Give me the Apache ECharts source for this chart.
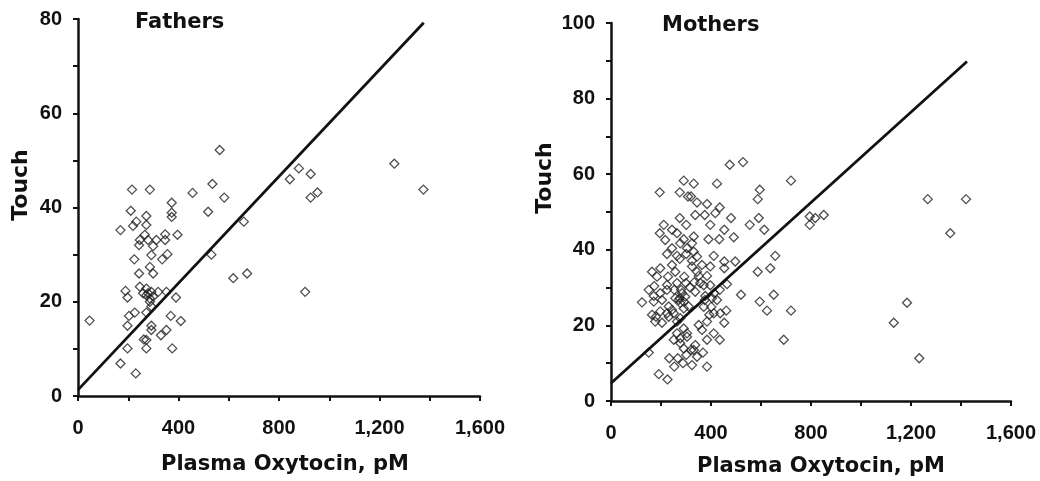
<!DOCTYPE html>
<html>
<head>
<meta charset="utf-8">
<script src="https://cdn.jsdelivr.net/npm/echarts/dist/echarts.min.js"></script>
<style>
  html, body { margin: 0; padding: 0; background: #fff; }
  #chart { width: 1040px; height: 481px; }
</style>
</head>
<body>
<div id="chart"></div>
<script>
// Fathers: [plasma oxytocin pM, touch]
const fathersPoints = [
  [46,16],[169,35.2],[215,43.8],[286,43.8],[210,39.3],[219,36.1],[232,37],[272,38.2],[272,36.3],
  [246,33.1],[266,34.2],[243,32],[279,33.1],[299,31.8],[312,33.1],[347,34.3],[347,33.1],[356,30.1],
  [335,29],[292,29.9],[224,29],[286,27.4],[299,26],[243,26],[373,41],[373,38.9],[373,38],[396,34.2],
  [456,43.1],[518,39.1],[535,45],[582,42.1],[564,52.2],[531,30],[618,25],[673,26],[660,37],[843,46],
  [879,48.3],[926,47.1],[926,42.1],[953,43.2],[904,22.1],[1259,49.3],[1375,43.8],
  [189,22.3],[197,20.9],[246,23.2],[259,21.8],[272,22.8],[279,21.8],[292,22.1],[299,21.1],[319,22.1],
  [352,22.1],[390,20.9],[286,20],[292,19],[272,17.7],[203,17],[226,17.7],[197,14.9],[292,14.9],
  [292,14],[330,12.9],[352,14],[369,17],[409,15.9],[262,12],[272,11.9],[197,10.1],[272,10.1],
  [375,10.1],[169,6.9],[230,4.8],[272,21.4],[286,20.7]
];
const fathersFit = [[0,1.3],[1376,79.2]];

// Mothers: [plasma oxytocin pM, touch]
const mothersPoints = [
  [124,26.1],[151,12.8],[195,55.2],[191,7.1],[226,5.7],[475,62.5],[528,63.2],[424,57.5],[291,58.3],
  [331,57.5],[275,55.2],[308,54.1],[320,54.1],[344,52.5],[384,52.1],[435,51.2],[480,48.4],[337,49.2],
  [375,49.2],[275,48.4],[301,46.6],[211,46.6],[244,45.3],[195,44.4],[217,42.6],[264,44.4],[291,42.8],
  [331,43.5],[324,41.7],[397,46.6],[390,42.8],[433,42.8],[417,49.7],[453,45.3],[491,43.3],[555,46.6],
  [587,53.4],[595,55.9],[591,48.4],[613,45.3],[720,58.3],[795,48.8],[795,46.6],[817,48.4],[851,49.2],
  [1267,53.4],[1420,53.4],[1357,44.4],[1184,26],[1131,20.7],[1233,11.3],
  [657,38.4],[637,35.1],[587,34.2],[497,36.9],[453,36.9],[411,38.4],[397,35.6],[453,35.1],[464,30.9],
  [520,28.1],[595,26.3],[624,23.9],[651,28.1],[720,23.9],[691,16.2],[461,23.9],[453,20.7],[435,16.2],
  [411,17.9],[384,16.2],[368,12.8],[384,9.1],[364,18.8],[351,20.1],[384,21],[411,23.2],[401,24.9],
  [404,27.2],[413,28.5],[371,24.9],[377,27.8],[357,31.2],[337,28.9],[315,30.1],[293,32.9],[344,34.2],
  [324,35.6],[344,38.2],[331,39.5],[304,40.4],[264,38.4],[244,36],[257,34.2],[228,32.9],[224,30.7],
  [224,29.4],[197,28.5],[164,34.2],[197,35.1],[173,30.4],[171,27.8],[204,26.7],[231,25],[257,27.2],
  [275,27.2],[291,26.3],[297,27.6],[311,25],[197,23.7],[180,22.3],[204,20.7],[231,22.3],[251,23.2],
  [264,21],[291,19.2],[304,17.9],[251,16.2],[277,15.3],[291,13.9],[320,13.5],[301,12.2],[267,11.3],
  [233,11.3],[253,9.1],[288,10],[324,9.5],[344,11.7],[331,13.5],[337,14.8],[164,22.8],[177,21],
  [171,26.3],[151,29.4],[184,32.9],[224,38.9],[244,40.4],[277,41.7],[275,37.6],[301,38.9],[324,37.1],
  [364,36],[351,33.1],[333,31.4],[299,31.2],[264,31.2],[253,29.4],[280,29.4],[284,28.5],[271,26.7],
  [277,25.9],[291,24.5],[244,24.1],[224,23.2],[277,21.9],[264,17.9],[304,17],[277,16.6],[375,26.7],
  [393,22.8],[424,26.7],[437,23.2],[435,29.4],[397,30.6],[371,30.6],[384,33.1]
];
const mothersFit = [[0,4.7],[1424,89.8]];

const panelTitles = ['Fathers', 'Mothers'];
const xAxisTitle = 'Plasma Oxytocin, pM';
const yAxisTitle = 'Touch';
const xTicks = { min: 0, max: 1600, step: 200, labelEvery: 400 };
const yMaxes = [80, 100];

const chart = echarts.init(document.getElementById('chart'), null, { renderer: 'canvas' });

const INK = '#111';
const tickFont = { fontFamily: 'Liberation Sans', fontWeight: 'bold', fontSize: 20, color: INK };
const titleFont = 'bold 21px "DejaVu Sans"';

function xAxisFor(gridIndex) {
    return {
        type: 'value', gridIndex,
        min: xTicks.min, max: xTicks.max, interval: xTicks.step,
        axisLine: { onZero: false, lineStyle: { color: INK, width: 2.5 } },
        axisTick: { show: true, length: 5, lineStyle: { color: INK, width: 2 } },
        axisLabel: Object.assign({
            margin: 22,
            formatter: v => v % xTicks.labelEvery === 0 ? v.toLocaleString('en-US') : ''
        }, tickFont),
        splitLine: { show: false }
    };
}

function yAxisFor(gridIndex, max) {
    return {
        type: 'value', gridIndex,
        min: 0, max: max, interval: 10,
        axisLine: { show: true, lineStyle: { color: INK, width: 2.5 } },
        axisTick: { show: true, length: 5, lineStyle: { color: INK, width: 2 } },
        axisLabel: Object.assign({
            margin: 16,
            formatter: v => v % 20 === 0 ? String(v) : ''
        }, tickFont),
        splitLine: { show: false }
    };
}

function scatter(idx, pts) {
    return {
        type: 'scatter', xAxisIndex: idx, yAxisIndex: idx,
        data: pts,
        symbol: 'diamond', symbolSize: 9,
        itemStyle: { color: 'rgba(0,0,0,0)', borderColor: '#222', borderWidth: 1.3 },
        z: 3
    };
}

function fitLine(idx, pts) {
    return {
        type: 'line', xAxisIndex: idx, yAxisIndex: idx,
        data: pts, symbol: 'none',
        lineStyle: { color: INK, width: 2.8 },
        z: 4
    };
}

const option = {
    backgroundColor: '#fff',
    animation: false,
    grid: [
        { left: 78, top: 19, width: 402, height: 377 },
        { left: 611, top: 23, width: 400, height: 378 }
    ],
    xAxis: [xAxisFor(0), xAxisFor(1)],
    yAxis: [yAxisFor(0, yMaxes[0]), yAxisFor(1, yMaxes[1])],
    series: [
        scatter(0, fathersPoints), fitLine(0, fathersFit),
        scatter(1, mothersPoints), fitLine(1, mothersFit)
    ],
    graphic: [
        { type: 'text', x: 135, y: 12, style: { text: panelTitles[0], font: titleFont, fill: INK } },
        { type: 'text', x: 662, y: 15, style: { text: panelTitles[1], font: titleFont, fill: INK } },
        { type: 'text', x: 21, y: 185, rotation: Math.PI / 2,
          style: { text: yAxisTitle, font: 'bold 22px "DejaVu Sans"', fill: INK, align: 'center', verticalAlign: 'middle' } },
        { type: 'text', x: 545, y: 178, rotation: Math.PI / 2,
          style: { text: yAxisTitle, font: 'bold 22px "DejaVu Sans"', fill: INK, align: 'center', verticalAlign: 'middle' } },
        { type: 'text', x: 285, y: 465,
          style: { text: xAxisTitle, font: 'bold 21px "DejaVu Sans"', fill: INK, align: 'center', verticalAlign: 'middle' } },
        { type: 'text', x: 821, y: 467,
          style: { text: xAxisTitle, font: 'bold 21px "DejaVu Sans"', fill: INK, align: 'center', verticalAlign: 'middle' } }
    ]
};

chart.setOption(option);
</script>
</body>
</html>
